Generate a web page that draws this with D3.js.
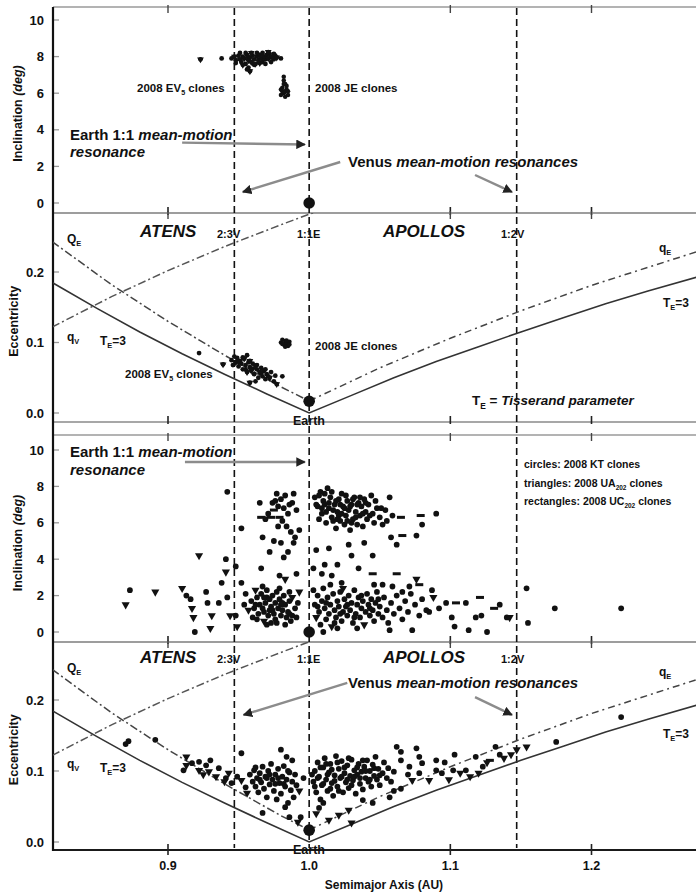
<!DOCTYPE html>
<html><head><meta charset="utf-8">
<script src="https://cdn.jsdelivr.net/npm/d3@7"></script>
<style>
body{margin:0;background:#fff}
svg{display:block}
text{font-family:"Liberation Sans",Arial,Helvetica,sans-serif;font-weight:bold;fill:#111}
</style></head>
<body><svg id="c" width="696" height="892"></svg>
<script>
// ---------------- DATA ----------------
const xTicks = [0.9, 1.0, 1.1, 1.2];
const xTickLabels = ["0.9", "1.0", "1.1", "1.2"];
const incTicks = [0, 2, 4, 6, 8, 10];
const eccTicks = [0.0, 0.1, 0.2];
const eccTickLabels = ["0.0", "0.1", "0.2"];
const resonanceNames = ["2:3V", "1:1E", "1:2V"];
const resonanceA = [0.947, 1.0, 1.147];
const earthA = 1.0, earthE = 0.0167, earthI = 0;

// curves (a, e) — Tisserand T_E = 3, aphelion/perihelion limit lines
const tisA = [0.818,0.85,0.88,0.91,0.94,0.97,1.0,1.03,1.06,1.09,1.12,1.15,1.18,1.21,1.24,1.275];
const tisE = [0.185,0.148,0.115,0.084,0.055,0.027,0.0,0.025,0.050,0.073,0.094,0.115,0.135,0.155,0.173,0.193];
const QEa = [0.818,0.86,0.90,0.94,0.98,1.0];
const QEe = [0.243,0.182,0.130,0.082,0.037,0.017];
const qVa = [0.818,0.86,0.90,0.94,0.98,1.0,1.01];
const qVe = [0.122,0.165,0.202,0.236,0.267,0.282,0.289];
const qEa = [1.0,1.05,1.10,1.15,1.20,1.275];
const qEe = [0.017,0.064,0.106,0.145,0.181,0.229];

// top panels: 2008 EV5 and 2008 JE clones [a, value]
const ev5Inc = [[0.923,7.85],[0.938,7.9],[0.945,7.9],[0.947,8.0],[0.948,7.8],[0.950,8.05],[0.951,7.85],[0.952,7.7],[0.953,8.0],[0.954,7.9],[0.955,7.6],[0.956,8.1],[0.957,7.8],[0.957,7.4],[0.958,7.95],[0.959,7.7],[0.960,8.05],[0.961,7.85],[0.962,7.6],[0.963,8.0],[0.964,7.8],[0.965,8.1],[0.966,7.9],[0.967,7.7],[0.968,8.0],[0.969,7.85],[0.970,8.1],[0.971,7.9],[0.972,8.15],[0.973,7.95],[0.974,8.0],[0.975,7.85],[0.976,8.05],[0.977,7.95],[0.980,7.9],[0.956,7.3],[0.958,7.2],
[0.948,7.65],[0.951,8.2],[0.953,7.55],[0.955,8.2],[0.957,7.95],[0.959,8.2],[0.961,7.55],[0.963,8.2],[0.965,7.65],[0.967,8.2],[0.969,7.6],[0.971,8.25],[0.973,7.7],[0.975,8.15]];
const jeInc = [[0.982,6.9],[0.982,6.7],[0.983,6.5],[0.981,6.3],[0.984,6.2],[0.982,6.0],[0.980,5.9],[0.985,5.9],[0.983,5.8],[0.981,6.1],[0.984,6.4],[0.982,6.5],[0.983,6.1],[0.980,6.2],[0.985,6.1]];
const ev5Ecc = [[0.922,0.085],[0.939,0.069],[0.945,0.075],[0.946,0.068],[0.948,0.072],[0.949,0.078],[0.950,0.066],[0.951,0.074],[0.952,0.070],[0.953,0.062],[0.954,0.077],[0.955,0.068],[0.956,0.082],[0.956,0.058],[0.957,0.072],[0.958,0.065],[0.959,0.060],[0.960,0.070],[0.961,0.055],[0.962,0.067],[0.963,0.062],[0.964,0.050],[0.965,0.058],[0.966,0.064],[0.967,0.052],[0.968,0.060],[0.969,0.048],[0.970,0.055],[0.972,0.050],[0.973,0.058],[0.975,0.045],[0.977,0.041],[0.976,0.053],[0.981,0.052],[0.958,0.043],[0.962,0.045],
[0.947,0.080],[0.950,0.073],[0.953,0.079],[0.955,0.062],[0.958,0.074],[0.960,0.063],[0.963,0.068],[0.966,0.057],[0.969,0.062],[0.971,0.052]];
const jeEcc = [[0.980,0.100],[0.981,0.104],[0.982,0.097],[0.983,0.102],[0.984,0.099],[0.985,0.095],[0.986,0.101],[0.983,0.094],[0.981,0.098],[0.984,0.103],[0.986,0.097]];

// bottom panels: 2008 KT (0 circle), 2008 UA202 (1 triangle), 2008 UC202 (2 rectangle) clones [a, value, type]
const clonesInc = [
[0.870,1.5,1],[0.873,2.3,0],[0.891,2.2,1],[0.910,2.4,1],[0.913,2.0,0],[0.916,1.8,0],[0.917,1.3,1],[0.918,0.8,1],[0.919,0.0,0],[0.922,4.2,1],[0.927,2.2,0],[0.928,1.6,0],[0.931,0.9,1],[0.930,0.2,1],[0.936,1.6,0],[0.938,2.7,0],[0.941,3.3,1],[0.941,4.0,0],[0.942,7.7,0],[0.942,1.9,0],[0.944,0.9,1],
[0.948,3.6,0],[0.948,0.9,0],[0.949,0.3,1],[0.952,5.7,0],[0.952,2.7,0],[0.954,1.5,0],[0.955,2.1,0],[0.957,1.2,1],[0.960,0.8,0],[0.962,2.3,1],[0.965,7.1,0],[0.967,5.2,0],[0.966,3.5,0],[0.967,2.5,0],[0.970,1.9,0],[0.972,1.2,0],[0.973,0.5,0],[0.974,7.1,0],[0.975,6.7,2],[0.977,7.6,0],[0.979,6.3,2],[0.980,4.9,0],[0.982,4.1,0],[0.984,5.8,0],[0.988,7.1,0],[0.989,7.6,0],[0.991,6.7,0],[0.989,4.9,0],[0.991,3.2,0],[0.993,5.6,0],[0.981,1.6,0],[0.984,0.8,0],[0.986,2.2,0],[0.988,0.9,0],[0.993,2.2,1],[0.977,0.5,0],
[0.959,1.7,0],[0.961,1.3,0],[0.963,1.9,0],[0.964,1.0,0],[0.965,1.5,0],[0.966,2.1,0],[0.968,1.1,0],[0.968,0.6,1],[0.969,1.6,0],[0.970,2.3,0],[0.971,0.9,0],[0.972,1.8,0],[0.973,1.4,0],[0.974,2.0,0],[0.975,1.0,0],[0.976,1.6,0],[0.976,0.7,0],[0.977,2.2,0],[0.978,1.3,0],[0.979,1.8,0],[0.980,0.9,0],[0.981,1.2,0],[0.982,2.0,0],[0.983,1.5,0],[0.985,1.1,0],[0.986,1.7,0],[0.987,0.6,0],[0.988,1.9,1],[0.990,1.3,0],[0.991,0.8,0],[0.992,1.6,0],[0.970,0.4,0],[0.963,0.7,0],[0.967,1.3,0],[0.979,2.4,0],[0.983,0.4,0],
[0.966,6.3,2],[0.969,6.2,0],[0.971,6.5,0],[0.973,6.3,2],[0.976,7.2,0],[0.978,6.9,0],[0.980,7.3,0],[0.982,6.8,0],[0.983,7.5,0],[0.981,6.1,0],[0.985,6.5,0],[0.986,7.0,0],[0.987,5.5,0],[0.978,5.8,0],[0.990,5.2,0],[0.975,5.0,0],[0.972,4.4,0],[0.985,4.4,0],[0.979,3.1,0],[0.983,2.9,1],
[1.004,7.4,0],[1.006,6.9,0],[1.008,7.7,0],[1.009,6.5,0],[1.010,7.2,0],[1.012,6.0,0],[1.013,7.9,0],[1.014,6.8,0],[1.015,7.4,0],[1.016,6.3,0],[1.018,7.0,0],[1.019,5.7,0],[1.020,6.6,0],[1.021,7.3,0],[1.022,6.1,0],[1.023,7.6,0],[1.024,6.9,0],[1.025,5.9,0],[1.026,6.4,0],[1.027,7.2,0],[1.028,6.7,0],[1.029,5.6,0],[1.030,7.0,0],[1.031,6.2,0],[1.032,7.4,0],[1.033,6.6,0],[1.034,5.9,0],[1.035,7.1,0],[1.036,6.4,0],[1.037,6.9,0],[1.038,5.8,0],[1.039,7.3,0],[1.040,6.6,0],[1.041,6.2,0],[1.042,7.0,0],[1.044,7.5,0],[1.045,6.5,0],[1.046,6.0,0],[1.048,6.8,0],[1.050,6.3,0],[1.052,5.9,0],[1.054,6.7,0],[1.057,7.4,0],[1.059,6.4,0],[1.065,6.3,2],[1.058,5.2,0],[1.066,5.3,2],[1.062,4.8,0],[1.079,6.4,2],[1.090,6.5,0],[1.080,5.9,0],[1.076,5.3,0],[1.011,7.0,0],[1.017,6.1,0],[1.007,6.2,0],[1.025,6.8,0],[1.030,6.0,0],[1.021,6.4,0],
[1.005,7.0,0],[1.007,7.5,0],[1.009,6.8,0],[1.011,7.6,0],[1.012,6.6,0],[1.014,7.1,0],[1.016,7.7,0],[1.017,6.7,0],[1.019,7.2,0],[1.020,6.2,0],[1.022,7.0,0],[1.023,6.5,0],[1.026,7.5,0],[1.027,6.1,0],[1.029,6.9,0],[1.031,7.3,0],[1.033,6.3,0],[1.034,7.0,0],[1.036,7.4,0],[1.038,6.5,0],[1.040,7.1,0],[1.043,6.4,0],[1.047,7.2,0],[1.051,6.8,0],[1.055,6.1,0],
[1.014,4.6,0],[1.028,4.8,0],[1.030,4.2,0],[1.011,3.7,0],[1.020,3.7,0],[1.009,3.2,0],[1.016,3.1,0],[1.023,2.7,0],[1.039,4.9,0],[1.045,4.2,0],[1.045,3.2,2],[1.062,3.2,2],[1.046,2.6,0],[1.052,2.6,0],[1.059,2.5,0],[1.071,2.5,0],[1.078,2.6,2],[1.087,2.3,0],[1.035,3.5,0],[1.005,4.5,0],[1.003,3.5,0],
[1.003,2.3,0],[1.004,1.5,0],[1.005,0.8,1],[1.006,2.0,0],[1.007,1.1,0],[1.008,0.4,0],[1.009,1.7,0],[1.010,2.4,0],[1.011,1.3,0],[1.012,0.7,0],[1.013,1.9,0],[1.014,1.0,0],[1.015,1.5,0],[1.016,0.3,1],[1.017,2.1,0],[1.018,1.2,0],[1.019,0.8,0],[1.020,1.7,0],[1.021,1.4,0],[1.022,2.2,0],[1.023,0.6,0],[1.024,1.1,0],[1.025,1.8,0],[1.026,1.4,0],[1.027,0.9,0],[1.028,2.0,0],[1.029,1.2,0],[1.030,1.6,0],[1.031,0.5,0],[1.032,2.3,0],[1.033,1.0,0],[1.034,1.5,0],[1.035,1.9,0],[1.036,0.8,0],[1.037,1.3,0],[1.038,1.7,0],[1.039,0.4,1],[1.040,1.1,0],[1.041,2.1,0],[1.042,1.5,0],[1.043,0.9,0],[1.044,1.8,0],[1.045,1.2,0],[1.046,0.6,0],[1.047,1.6,0],[1.048,2.2,0],[1.049,1.0,0],[1.050,1.4,0],[1.052,0.8,0],[1.053,1.9,0],[1.055,1.2,0],[1.056,0.5,0],[1.058,1.6,0],[1.060,1.0,0],[1.062,2.0,0],[1.064,1.3,0],[1.066,0.7,0],[1.068,1.7,0],[1.070,1.1,0],[1.072,2.1,0],[1.073,0.1,0],[1.075,1.5,0],[1.078,0.9,0],[1.080,1.8,0],[1.083,1.2,0],[1.085,1.1,0],[1.088,1.9,1],[1.092,1.3,0],[1.097,1.6,0],[1.101,0.8,0],[1.103,0.3,0],[1.104,1.6,2],[1.111,1.6,0],[1.113,0.1,0],[1.118,0.8,0],[1.121,1.9,2],[1.122,0.9,0],[1.126,0.0,0],[1.131,1.3,2],[1.135,1.5,0],[1.140,0.8,0],[1.142,0.8,1],[1.154,2.4,0],[1.155,0.5,0],[1.174,1.3,0],[1.221,1.3,0],[1.010,0.0,0],[1.020,0.2,0],[1.034,0.2,0],[1.057,0.1,0],[1.024,2.4,1],[1.015,2.6,0],[1.066,2.2,0],[1.076,2.9,1],
[1.006,1.4,0],[1.012,1.6,0],[1.018,0.5,0],[1.022,1.0,0],[1.027,1.5,0],[1.032,0.8,0],[1.037,2.0,0],[1.043,1.3,0],[1.049,1.8,0],[0.962,1.5,0],[0.968,1.9,0],[0.974,1.2,0],[0.980,1.5,0],[0.986,1.0,0]
];
const clonesEcc = [
[0.870,0.138,0],[0.872,0.142,0],[0.891,0.144,0],[0.913,0.120,1],[0.913,0.108,1],[0.911,0.101,0],[0.917,0.111,0],[0.922,0.113,0],[0.922,0.101,1],[0.927,0.108,0],[0.929,0.099,1],[0.930,0.115,0],[0.934,0.092,1],[0.936,0.104,0],[0.941,0.090,0],[0.943,0.097,1],[0.945,0.083,0],[0.952,0.125,0],[0.949,0.092,0],[0.952,0.087,1],[0.955,0.077,0],[0.956,0.069,1],[0.940,0.085,1],[0.925,0.095,1],
[0.958,0.095,0],[0.960,0.085,0],[0.961,0.101,0],[0.962,0.078,0],[0.963,0.090,0],[0.964,0.070,0],[0.965,0.097,0],[0.966,0.084,0],[0.967,0.041,0],[0.967,0.106,0],[0.968,0.075,0],[0.969,0.092,0],[0.970,0.063,0],[0.971,0.100,0],[0.972,0.081,0],[0.973,0.110,0],[0.974,0.088,0],[0.975,0.072,0],[0.976,0.095,0],[0.977,0.060,0],[0.978,0.103,0],[0.979,0.083,0],[0.980,0.130,0],[0.980,0.068,0],[0.981,0.092,0],[0.982,0.107,0],[0.983,0.078,0],[0.984,0.120,0],[0.984,0.088,0],[0.985,0.055,0],[0.986,0.098,0],[0.987,0.073,0],[0.988,0.115,0],[0.988,0.085,0],[0.989,0.063,0],[0.990,0.095,0],[0.991,0.080,0],[0.983,0.049,0],[0.986,0.035,0],[0.994,0.035,0],[0.992,0.028,1],[0.970,0.090,0],[0.962,0.105,0],[0.976,0.082,0],[0.993,0.072,1],[0.996,0.090,0],
[1.003,0.085,0],[1.004,0.100,0],[1.005,0.070,0],[1.006,0.112,0],[1.007,0.092,0],[1.008,0.060,0],[1.009,0.080,0],[1.010,0.105,0],[1.011,0.118,0],[1.012,0.088,0],[1.013,0.072,0],[1.014,0.098,0],[1.015,0.110,0],[1.016,0.083,0],[1.017,0.065,0],[1.018,0.094,0],[1.019,0.121,0],[1.020,0.078,0],[1.021,0.103,0],[1.022,0.090,0],[1.023,0.114,0],[1.024,0.070,0],[1.025,0.097,0],[1.026,0.084,0],[1.027,0.108,0],[1.028,0.076,0],[1.029,0.093,0],[1.030,0.116,0],[1.031,0.087,0],[1.032,0.101,0],[1.033,0.068,0],[1.034,0.095,0],[1.035,0.110,0],[1.036,0.082,0],[1.037,0.099,0],[1.038,0.074,0],[1.039,0.106,0],[1.040,0.090,0],[1.041,0.115,0],[1.042,0.085,0],[1.043,0.100,0],[1.044,0.078,0],[1.045,0.109,0],[1.046,0.093,0],[1.047,0.120,0],[1.048,0.088,0],[1.049,0.103,0],[1.050,0.080,0],[1.052,0.097,0],[1.053,0.112,0],[1.055,0.090,0],[1.056,0.104,0],[1.058,0.085,0],[1.060,0.099,0],[1.062,0.134,0],[1.065,0.127,0],[1.076,0.132,0],[1.078,0.120,0],[1.065,0.115,0],[1.071,0.106,0],[1.080,0.111,0],[1.090,0.115,0],[1.090,0.101,0],[1.078,0.097,0],[1.073,0.087,1],[1.085,0.087,1],[1.094,0.097,0],[1.103,0.123,0],[1.102,0.101,0],[1.107,0.097,1],[1.111,0.101,0],[1.118,0.120,0],[1.123,0.106,0],[1.128,0.115,2],[1.132,0.134,0],[1.135,0.123,0],[1.143,0.123,1],[1.120,0.097,1],[1.114,0.092,1],[1.154,0.134,1],[1.175,0.141,0],[1.221,0.176,0],[1.147,0.130,1],
[1.007,0.048,0],[1.014,0.031,1],[1.021,0.038,1],[1.028,0.045,1],[1.030,0.027,1],[1.038,0.059,0],[1.045,0.055,0],[1.057,0.063,0],[1.010,0.055,0],[1.005,0.040,1],[1.065,0.075,0],[1.070,0.095,0],[1.096,0.112,0],[1.099,0.088,1],[1.126,0.112,1],[1.138,0.118,1],[1.060,0.072,0],
[1.002,0.095,0],[1.004,0.078,0],[1.006,0.090,0],[1.008,0.105,0],[1.010,0.082,0],[1.012,0.110,0],[1.013,0.095,0],[1.015,0.075,0],[1.016,0.102,0],[1.018,0.086,0],[1.020,0.112,0],[1.021,0.072,0],[1.023,0.092,0],[1.025,0.105,0],[1.027,0.088,0],[1.028,0.118,0],[1.030,0.080,0],[1.032,0.092,0],[1.034,0.105,0],[1.036,0.090,0],[1.038,0.115,0],[1.040,0.100,0],[1.043,0.088,0],[1.046,0.104,0],[1.050,0.094,0],[0.985,0.100,0],[0.978,0.090,0],[0.972,0.095,0],[0.965,0.088,0],[0.982,0.082,0]
];

// ---------------- LAYOUT ----------------
const svg = d3.select("#c");
const X0 = 53, X1 = 696;
const x = d3.scaleLinear().domain([0.9, 1.2]).range([168, 591.5]);
const panels = [
  {top:7,   bottom:213, y:d3.scaleLinear().domain([0,10]).range([203,20]),  kind:"inc"},
  {top:213, bottom:422, y:d3.scaleLinear().domain([0,0.2]).range([413,272]), kind:"ecc"},
  {top:435, bottom:642, y:d3.scaleLinear().domain([0,10]).range([632,450]),  kind:"inc"},
  {top:642, bottom:850, y:d3.scaleLinear().domain([0,0.2]).range([842,700]), kind:"ecc"}
];
const defs = svg.append("defs");
panels.forEach((p,k)=>{
  defs.append("clipPath").attr("id","clip"+k).append("rect")
    .attr("x",X0).attr("y",p.top).attr("width",X1-X0).attr("height",p.bottom-p.top);
});
defs.append("marker").attr("id","ah").attr("viewBox","0 0 10 10").attr("refX",9).attr("refY",5)
  .attr("markerWidth",4).attr("markerHeight",4).attr("orient","auto")
  .append("path").attr("d","M0,0L10,5L0,10z").attr("fill","#222");

function rich(x0, y0, segs, size, anchor, italicAll){
  const t = svg.append("text").attr("x",x0).attr("y",y0).attr("font-size",size)
    .attr("text-anchor",anchor||"start");
  if (italicAll) t.attr("font-style","italic");
  let prevSub=false;
  segs.forEach(s=>{
    if (typeof s === "string") s = {t:s};
    const sp = t.append("tspan").text(s.t);
    if (s.i) sp.attr("font-style","italic");
    if (s.sub){ sp.attr("font-size",size*0.62).attr("dy",size*0.28); prevSub=true; }
    else if (prevSub){ sp.attr("dy",-size*0.28); prevSub=false; }
  });
  return t;
}

// panel frames & ticks
panels.forEach((p,k)=>{
  svg.append("line").attr("x1",X0).attr("x2",X1).attr("y1",p.top).attr("y2",p.top)
    .attr("stroke","#9a9a9a").attr("stroke-width",1.6);
  svg.append("line").attr("x1",X0).attr("x2",X1).attr("y1",p.bottom).attr("y2",p.bottom)
    .attr("stroke", k===3 ? "#1a1a1a" : "#8a8a8a").attr("stroke-width", k===3?2:1.6);
  xTicks.forEach(t=>{
    if (t===1.0) return;
    svg.append("line").attr("x1",x(t)).attr("x2",x(t)).attr("y1",p.bottom-6).attr("y2",p.bottom+ (k===3?5:2))
      .attr("stroke","#222").attr("stroke-width",1.6);
    svg.append("line").attr("x1",x(t)).attr("x2",x(t)).attr("y1",p.top-2).attr("y2",p.top+6)
      .attr("stroke","#444").attr("stroke-width",1.4);
  });
  const ticks = p.kind==="inc" ? incTicks : eccTicks;
  ticks.forEach((t,j)=>{
    const yy = p.y(t);
    svg.append("line").attr("x1",X0).attr("x2",X0+6).attr("y1",yy).attr("y2",yy)
      .attr("stroke","#999").attr("stroke-width",1.3);
    svg.append("text").attr("x",44).attr("y",yy).attr("dy","0.36em").attr("text-anchor","end")
      .attr("font-size",13).text(p.kind==="inc" ? String(t) : eccTickLabels[j]);
  });
});
svg.append("line").attr("x1",X0).attr("x2",X0).attr("y1",7).attr("y2",851)
  .attr("stroke","#111").attr("stroke-width",2.2);

[[0,"inc"],[1,"ecc"],[2,"inc"],[3,"ecc"]].forEach(([k,kind])=>{
  const p = panels[k];
  const cy = kind==="inc" ? p.y(5)+2 : p.y(0.13);
  const t = svg.append("text").attr("transform",`translate(${kind==="inc"?22:18},${cy}) rotate(-90)`)
    .attr("text-anchor","middle").attr("font-size",12.5);
  if (kind==="inc"){ t.append("tspan").text("Inclination "); t.append("tspan").attr("font-style","italic").text("(deg)"); }
  else t.text("Eccentricity");
});
xTicks.forEach((t,j)=>{
  svg.append("text").attr("x",x(t)).attr("y",870).attr("text-anchor","middle").attr("font-size",12.5).text(xTickLabels[j]);
});
svg.append("text").attr("x",384).attr("y",889).attr("text-anchor","middle").attr("font-size",12).text("Semimajor Axis  (AU)");

resonanceA.forEach(a=>{
  svg.append("line").attr("x1",x(a)).attr("x2",x(a)).attr("y1",8).attr("y2",848)
    .attr("stroke","#111").attr("stroke-width",1.6).attr("stroke-dasharray","7,4");
});

const curves = [
  {a:tisA, e:tisE, dash:null, color:"#333", w:1.6},
  {a:QEa, e:QEe, dash:"8,3,2,3", color:"#444", w:1.5},
  {a:qVa, e:qVe, dash:"8,3,2,3", color:"#555", w:1.5},
  {a:qEa, e:qEe, dash:"7,4,2,4", color:"#444", w:1.5}
];
[1,3].forEach(k=>{
  const p = panels[k];
  const g = svg.append("g").attr("clip-path",`url(#clip${k})`);
  curves.forEach(c=>{
    const line = d3.line().x((d,i)=>x(c.a[i])).y(d=>p.y(d));
    g.append("path").attr("d",line(c.e)).attr("fill","none").attr("stroke",c.color)
      .attr("stroke-width",c.w).attr("stroke-dasharray",c.dash);
  });
});

const symC = d3.symbol().type(d3.symbolCircle);
const symT = d3.symbol().type(d3.symbolTriangle);
function drawPts(k, pts, defType, sz){
  const p = panels[k];
  const g = svg.append("g").attr("clip-path",`url(#clip${k})`).attr("fill","#111");
  pts.forEach(d=>{
    const t = d.length>2 ? d[2] : defType;
    const cx = x(d[0]), cy = p.y(d[1]);
    if (t===0) g.append("path").attr("d",symC.size(sz)()).attr("transform",`translate(${cx},${cy})`);
    else if (t===1) g.append("path").attr("d",symT.size(sz*1.1)()).attr("transform",`translate(${cx},${cy}) rotate(180)`);
    else g.append("rect").attr("x",cx-4).attr("y",cy-1.5).attr("width",8).attr("height",3);
  });
}
drawPts(0, ev5Inc, 0, 18);
drawPts(0, ev5Inc.filter((d,i)=>i%3===0), 1, 18);
drawPts(0, jeInc, 0, 16);
drawPts(1, ev5Ecc, 0, 18);
drawPts(1, ev5Ecc.filter((d,i)=>i%3===1), 1, 18);
drawPts(1, jeEcc, 0, 16);
drawPts(2, clonesInc, 0, 26);
drawPts(3, clonesEcc, 0, 26);

[[0,earthI],[1,earthE],[2,earthI],[3,earthE]].forEach(([k,v])=>{
  svg.append("circle").attr("cx",x(earthA)).attr("cy",panels[k].y(v)).attr("r",5.8).attr("fill","#111");
});

function arrow(k, a1, v1, a2, v2){
  const p = panels[k];
  svg.append("line").attr("x1",x(a1)).attr("y1",p.y(v1)).attr("x2",x(a2)).attr("y2",p.y(v2))
    .attr("stroke","#8c8c8c").attr("stroke-width",2.4).attr("marker-end","url(#ah)");
}
arrow(0, 0.910, 3.3, 0.997, 3.2);
arrow(0, 1.022, 2.24, 0.953, 0.6);
arrow(0, 1.1175, 1.53, 1.1437, 0.6);
arrow(2, 0.912, 9.34, 0.997, 9.34);
arrow(3, 1.027, 0.224, 0.9535, 0.179);
arrow(3, 1.1175, 0.204, 1.1437, 0.179);

// ---------------- TEXT ----------------
rich(137, 92, ["2008 EV",{t:"5",sub:1}," clones"], 11.5);
rich(315, 92, ["2008 JE clones"], 11.5);
rich(70, 140, ["Earth 1:1 ",{t:"mean-motion",i:1}], 15);
rich(70, 157, [{t:"resonance",i:1}], 15);
rich(348, 167, ["Venus ",{t:"mean-motion resonances",i:1}], 15);
[[237,238,243,341,345,252,307],[663,663,672,768,772,676,738]].forEach(r=>{
  rich(140, r[0], ["ATENS"], 17, "start", true);
  rich(383, r[0], ["APOLLOS"], 17, "start", true);
  rich(217, r[1], ["2:3V"], 11);
  rich(297, r[1], ["1:1E"], 11);
  rich(501, r[1], ["1:2V"], 11);
  rich(67, r[2], ["Q",{t:"E",sub:1}], 12);
  rich(67, r[3], ["q",{t:"V",sub:1}], 12);
  rich(100, r[4], ["T",{t:"E",sub:1},"=3"], 12);
  rich(659, r[5], ["q",{t:"E",sub:1}], 12);
  rich(663, r[6], ["T",{t:"E",sub:1},"=3"], 12);
});
rich(125, 378, ["2008 EV",{t:"5",sub:1}," clones"], 11.5);
rich(315, 350, ["2008 JE clones"], 11.5);
rich(472, 405, ["T",{t:"E",sub:1}," = ",{t:"Tisserand parameter",i:1}], 13.5);
rich(309, 425, ["Earth"], 12.5, "middle");
rich(70, 457, ["Earth 1:1 ",{t:"mean-motion",i:1}], 15);
rich(70, 475, [{t:"resonance",i:1}], 15);
rich(524, 468, ["circles: 2008 KT clones"], 10.5);
rich(524, 487, ["triangles: 2008 UA",{t:"202",sub:1}," clones"], 10.5);
rich(524, 505, ["rectangles: 2008 UC",{t:"202",sub:1}," clones"], 10.5);
rich(348, 688, ["Venus ",{t:"mean-motion resonances",i:1}], 15);
rich(309, 854, ["Earth"], 12.5, "middle");
</script></body></html>
